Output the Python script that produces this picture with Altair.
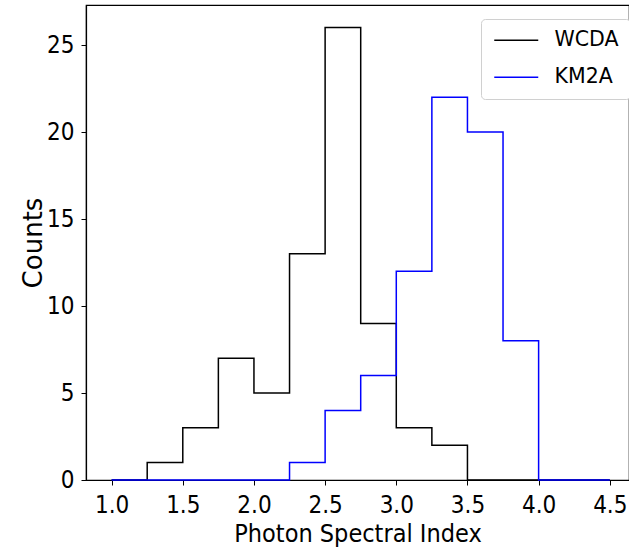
import altair as alt
import pandas as pd

# ---- data ----
bin_edges = [1.0, 1.25, 1.5, 1.75, 2.0, 2.25, 2.5, 2.75, 3.0, 3.25, 3.5, 3.75, 4.0, 4.25, 4.5]
wcda_counts = [0, 1, 3, 7, 5, 13, 26, 9, 3, 2, 0, 0, 0, 0]
km2a_counts = [0, 0, 0, 0, 0, 1, 4, 6, 12, 22, 20, 8, 0, 0]
series_names = ["WCDA", "KM2A"]
series_colors = ["#000000", "#0000ff"]
x_ticks = [1.0, 1.5, 2.0, 2.5, 3.0, 3.5, 4.0, 4.5]
y_ticks = [0, 5, 10, 15, 20, 25]

rows = []
for name, counts in zip(series_names, [wcda_counts, km2a_counts]):
    vals = counts + [0]
    for i, (e, c) in enumerate(zip(bin_edges, vals)):
        rows.append({"edge": e, "count": c, "series": name, "order": i})
df = pd.DataFrame(rows)

FONT = "DejaVu Sans"
CFONT = "DejaVu Sans Condensed"

color = alt.Color(
    "series:N",
    scale=alt.Scale(domain=series_names, range=series_colors),
    legend=alt.Legend(
        title=None,
        orient="none",
        legendX=395,
        legendY=14,
        padding=11,
        strokeColor="#d0d0d0",
        fillColor="white",
        cornerRadius=4,
        labelFont=FONT,
        labelFontSize=20.5,
        labelColor="black",
        symbolType="M-1,0H4.5",
        symbolSize=256,
        symbolStrokeWidth=1.5,
        labelOffset=42,
        rowPadding=16,
    ),
)

base = alt.Chart(df).mark_line(interpolate="step-after", strokeWidth=1.5).encode(
    x=alt.X(
        "edge:Q",
        scale=alt.Scale(domain=[0.82, 4.635], nice=False, zero=False),
        axis=alt.Axis(values=x_ticks, format=".1f", title="Photon Spectral Index",
                      labelPadding=8, titlePadding=4, titleFontSize=25,
                      labelFont=CFONT, titleFont=CFONT, labelFontSize=24),
    ),
    y=alt.Y(
        "count:Q",
        scale=alt.Scale(domain=[0, 27.3], nice=False),
        axis=alt.Axis(values=y_ticks, format="d", title="Counts",
                      labelPadding=7, titlePadding=0, titleFontSize=26,
                      labelFont=CFONT, titleFont=FONT, labelFontSize=24),
    ),
    color=color,
    order="order:Q",
)

layers = [base.transform_filter(alt.datum.series == n) for n in series_names]

chart = (
    alt.layer(*layers)
    .properties(
        width=543,
        height=475,
        autosize=alt.AutoSizeParams(type="none"),
        padding={"left": 86, "top": 5, "right": 0, "bottom": 68},
        background="white",
    )
    .configure_view(stroke="black", strokeWidth=1.2)
    .configure_axis(
        grid=False,
        domainColor="black",
        domainWidth=1.2,
        tickColor="black",
        tickSize=5,
        tickWidth=1,
        labelColor="black",
        titleFontWeight="normal",
        titleColor="black",
    )
)

chart.save("out.html", embed_options={"renderer": "svg", "actions": False})
